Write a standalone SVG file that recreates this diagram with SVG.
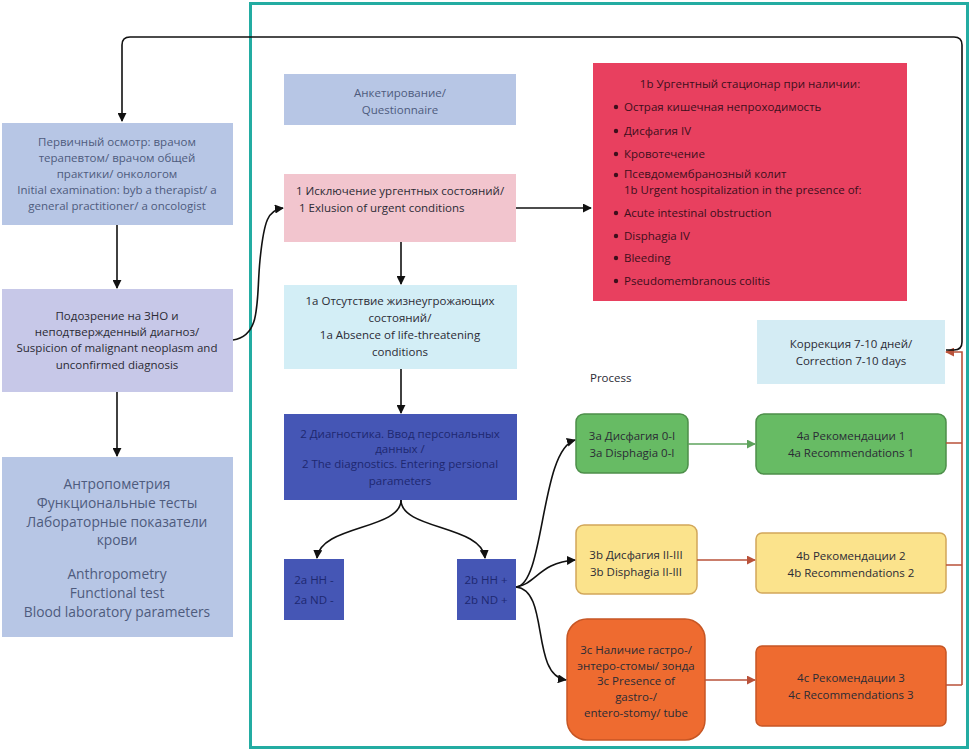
<svg xmlns="http://www.w3.org/2000/svg" width="973" height="751" viewBox="0 0 973 751">
<defs>
<marker id="ab" viewBox="0 0 10 10" refX="9" refY="5" markerWidth="9" markerHeight="9" markerUnits="userSpaceOnUse" orient="auto"><path d="M0,0 L10,5 L0,10 z" fill="#111"/></marker>
<marker id="ag" viewBox="0 0 10 10" refX="9" refY="5" markerWidth="9" markerHeight="9" markerUnits="userSpaceOnUse" orient="auto"><path d="M0,0 L10,5 L0,10 z" fill="#5ea35c"/></marker>
<marker id="ar" viewBox="0 0 10 10" refX="9" refY="5" markerWidth="9" markerHeight="9" markerUnits="userSpaceOnUse" orient="auto"><path d="M0,0 L10,5 L0,10 z" fill="#b9523a"/></marker>
</defs>
<style>
text{font-family:"Open Sans","Noto Sans",sans-serif;font-size:11.5px;text-anchor:middle}
.l{text-anchor:start}
.gb{fill:#4e5b7d}
.dk{fill:#2b2b35}
.big{font-size:13.8px}
.rd{fill:#3d0f1c}
.nv{fill:#1e2870}
.c{fill:none;stroke:#111;stroke-width:1.6}
.cr{fill:none;stroke:#b9523a;stroke-width:1.6}
</style>
<rect width="973" height="751" fill="#fff"/>
<rect x="250.5" y="3.5" width="717" height="744" fill="none" stroke="#23aca2" stroke-width="3"/>

<g id="n-primary"><rect x="2" y="123" width="231" height="102" fill="#b7c6e5"/>
<text class="gb" x="117" y="146">Первичный осмотр: врачом</text>
<text class="gb" x="117" y="162">терапевтом/ врачом общей</text>
<text class="gb" x="117" y="178">практики/ онкологом</text>
<text class="gb" x="117" y="194">Initial examination: byb a therapist/ a</text>
<text class="gb" x="117" y="210">general practitioner/ a oncologist</text></g>

<g id="n-suspicion"><rect x="2" y="289" width="231" height="103" fill="#c7c8e8"/>
<text class="dk" x="117" y="320">Подозрение на ЗНО и</text>
<text class="dk" x="117" y="336">неподтвержденный диагноз/</text>
<text class="dk" x="117" y="352">Suspicion of malignant neoplasm and</text>
<text class="dk" x="117" y="369">unconfirmed diagnosis</text></g>

<g id="n-lab"><rect x="2" y="457" width="231" height="180" fill="#b7c6e5"/>
<text class="gb big" x="117" y="489">Антропометрия</text>
<text class="gb big" x="117" y="508">Функциональные тесты</text>
<text class="gb big" x="117" y="527">Лабораторные показатели</text>
<text class="gb big" x="117" y="545">крови</text>
<text class="gb big" x="117" y="579">Anthropometry</text>
<text class="gb big" x="117" y="598">Functional test</text>
<text class="gb big" x="117" y="617">Blood laboratory parameters</text></g>

<g id="n-questionnaire"><rect x="284" y="74" width="232" height="51" fill="#b7c6e5"/>
<text class="gb" x="400" y="97">Анкетирование/</text>
<text class="gb" x="400" y="114">Questionnaire</text></g>

<g id="n-1"><rect x="284" y="174" width="232" height="68" fill="#f2c5ce"/>
<text class="dk l" x="296" y="195">1 Исключение ургентных состояний/</text>
<text class="dk l" x="299" y="212">1  Exlusion of urgent conditions</text></g>

<g id="n-1b"><rect x="593" y="63" width="314" height="238" fill="#e8405f"/>
<text class="rd" x="750" y="88">1b Ургентный стационар при наличии:</text>
<g class="rd">
<circle cx="616" cy="107" r="2.2"/><circle cx="616" cy="131" r="2.2"/><circle cx="616" cy="154" r="2.2"/><circle cx="616" cy="175" r="2.2"/>
<circle cx="616" cy="213" r="2.2"/><circle cx="616" cy="236" r="2.2"/><circle cx="616" cy="258" r="2.2"/><circle cx="616" cy="281" r="2.2"/></g>
<text class="rd l" x="624" y="111">Острая кишечная непроходимость</text>
<text class="rd l" x="624" y="135">Дисфагия IV</text>
<text class="rd l" x="624" y="158">Кровотечение</text>
<text class="rd l" x="624" y="178">Псевдомембранозный колит</text>
<text class="rd l" x="624" y="194">1b Urgent hospitalization in the presence of:</text>
<text class="rd l" x="624" y="217">Acute intestinal obstruction</text>
<text class="rd l" x="624" y="240">Disphagia IV</text>
<text class="rd l" x="624" y="262">Bleeding</text>
<text class="rd l" x="624" y="285">Pseudomembranous colitis</text></g>

<g id="n-1a"><rect x="284" y="285" width="233" height="84" fill="#d3eef6"/>
<text class="dk" x="400" y="305">1a Отсутствие жизнеугрожающих</text>
<text class="dk" x="400" y="322">состояний/</text>
<text class="dk" x="400" y="339">1a Absence of life-threatening</text>
<text class="dk" x="400" y="356">conditions</text></g>

<g id="n-2"><rect x="284" y="414" width="233" height="86" fill="#4556b5"/>
<text class="nv" x="400" y="438">2 Диагностика. Ввод персональных</text>
<text class="nv" x="400" y="453">данных /</text>
<text class="nv" x="400" y="468">2 The diagnostics. Entering persional</text>
<text class="nv" x="400" y="485">parameters</text></g>

<g id="n-2a"><rect x="284" y="559" width="60" height="61" fill="#4556b5"/>
<text class="nv" x="314" y="584">2a HH -</text>
<text class="nv" x="314" y="604">2a ND -</text></g>

<g id="n-2b"><rect x="457" y="559" width="59" height="61" fill="#4556b5"/>
<text class="nv" x="486" y="584">2b HH +</text>
<text class="nv" x="486" y="604">2b ND +</text></g>

<g id="n-correction"><rect x="757" y="320" width="188" height="64" fill="#d4ecf4"/>
<text class="dk" x="851" y="348">Коррекция 7-10 дней/</text>
<text class="dk" x="851" y="365">Correction 7-10 days</text></g>

<g id="n-process"><text class="dk l" x="590" y="382">Process</text></g>

<g id="n-3a"><rect x="576" y="414" width="112" height="59" rx="8" fill="#67bb64" stroke="#4d8f4a" stroke-width="1.5"/>
<text class="dk" x="632" y="440">3a Дисфагия 0-I</text>
<text class="dk" x="632" y="457">3a Disphagia 0-I</text></g>

<g id="n-4a"><rect x="756" y="414" width="190" height="60" rx="8" fill="#67bb64" stroke="#4d8f4a" stroke-width="1.5"/>
<text class="dk" x="851" y="440">4a Рекомендации 1</text>
<text class="dk" x="851" y="457">4a Recommendations 1</text></g>

<g id="n-3b"><rect x="576" y="525" width="121" height="69" rx="8" fill="#fbe38c" stroke="#d2a75a" stroke-width="1.5"/>
<text class="dk" x="636" y="559">3b Дисфагия II-III</text>
<text class="dk" x="636" y="576">3b Disphagia II-III</text></g>

<g id="n-4b"><rect x="756" y="533" width="190" height="60" rx="6" fill="#fbe38c" stroke="#d2a75a" stroke-width="1.5"/>
<text class="dk" x="851" y="560">4b Рекомендации 2</text>
<text class="dk" x="851" y="577">4b Recommendations 2</text></g>

<g id="n-3c"><rect x="567" y="619" width="138" height="121" rx="20" fill="#ee6b30" stroke="#c65624" stroke-width="1.5"/>
<text class="dk" x="636" y="654">3c Наличие гастро-/</text>
<text class="dk" x="636" y="670">энтеро-стомы/ зонда</text>
<text class="dk" x="636" y="685">3c Presence of</text>
<text class="dk" x="636" y="701">gastro-/</text>
<text class="dk" x="636" y="717">entero-stomy/ tube</text></g>

<g id="n-4c"><rect x="756" y="646" width="190" height="80" rx="6" fill="#ee6b30" stroke="#c65624" stroke-width="1.5"/>
<text class="dk" x="851" y="682">4c Рекомендации 3</text>
<text class="dk" x="851" y="699">4c Recommendations 3</text></g>

<g id="connectors">
<path class="c" d="M117,225 V288" marker-end="url(#ab)"/>
<path class="c" d="M117,392 V456" marker-end="url(#ab)"/>
<path class="c" d="M233,340 C262,336 256,300 260,260 C264,220 268,210 283,208" marker-end="url(#ab)"/>
<path class="c" d="M516,208 H591" marker-end="url(#ab)"/>
<path class="c" d="M401,242 V284" marker-end="url(#ab)"/>
<path class="c" d="M401,369 V413" marker-end="url(#ab)"/>
<path class="c" d="M401,500 C401,530 320,525 317,558" marker-end="url(#ab)"/>
<path class="c" d="M401,500 C401,530 482,525 485,558" marker-end="url(#ab)"/>
<path class="c" d="M516,587 C545,585 540,450 575,440" marker-end="url(#ab)"/>
<path class="c" d="M516,587 C535,585 540,562 575,560" marker-end="url(#ab)"/>
<path class="c" d="M516,587 C550,590 530,675 566,680" marker-end="url(#ab)"/>
<path d="M688,444 H755" fill="none" stroke="#5ea35c" stroke-width="1.6" marker-end="url(#ag)"/>
<path class="cr" d="M697,560 H755" marker-end="url(#ar)"/>
<path class="cr" d="M705,680 H755" marker-end="url(#ar)"/>
<path class="cr" d="M946,443 H962 M946,565 H962 M946,685 H962 M962,685 V352 H946" marker-end="url(#ar)"/>
<path class="c" d="M946,350 H954 Q962,350 962,342 V45 Q962,37 954,37 H130 Q122,37 122,45 V121" marker-end="url(#ab)"/>
</g>
</svg>
